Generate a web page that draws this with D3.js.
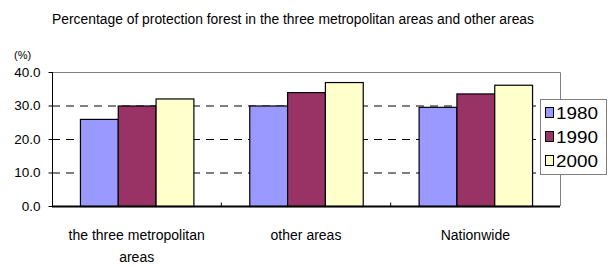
<!DOCTYPE html>
<html>
<head>
<meta charset="utf-8">
<script src="https://cdn.jsdelivr.net/npm/d3@7"></script>
<style>
  body { margin: 0; background: #fff; }
  svg { display: block; font-family: "Liberation Sans", Arial, sans-serif; }
</style>
</head>
<body>
<svg id="chart"></svg>
<script>
// data
const categories = ["the three metropolitan areas", "other areas", "Nationwide"];
const years = ["1980", "1990", "2000"];
const values1980 = [26.0, 30.0, 29.6];
const values1990 = [30.0, 34.0, 33.6];
const values2000 = [32.1, 37.0, 36.2];
const yTicks = [0, 10, 20, 30, 40];
const colors = ["#9999ff", "#993366", "#ffffcc"];

const series = [values1980, values1990, values2000];
const rows = categories.map((c, i) => ({
  cat: c,
  vals: years.map((y, j) => ({ year: y, value: series[j][i] }))
}));

// setting up svg
const w = 609, h = 267;
const plotL = 52, plotR = 560, plotT = 72, plotB = 206;
const svg = d3.select("#chart").attr("width", w).attr("height", h);

// scales
const x = d3.scaleBand().domain(categories).range([plotL, plotR]).paddingInner(0.33).paddingOuter(0.165);
const x1 = d3.scaleBand().domain(years).range([0, x.bandwidth()]);
const y = d3.scaleLinear().domain([0, 40]).range([plotB, plotT]);
const color = d3.scaleOrdinal().domain(years).range(colors);

// title
svg.append("text")
  .attr("x", 52).attr("y", 24)
  .attr("textLength", 482)
  .attr("lengthAdjust", "spacingAndGlyphs")
  .style("font-size", "14px")
  .attr("fill", "#000")
  .text("Percentage of protection forest in the three metropolitan areas and other areas");

// unit label
svg.append("text")
  .attr("x", 14).attr("y", 59)
  .style("font-size", "11px")
  .text("(%)");

// grid lines
svg.append("g")
  .selectAll("line")
  .data(yTicks.filter(d => d > 0 && d < 40))
  .join("line")
    .attr("x1", plotL).attr("x2", plotR)
    .attr("y1", d => y(d) + 0.5).attr("y2", d => y(d) + 0.5)
    .attr("stroke", "#000")
    .attr("stroke-dasharray", "8,6");

// top and right border
svg.append("path")
  .attr("d", `M${plotL},${y(40) + 0.5}H${plotR + 0.5}V${plotB}`)
  .attr("fill", "none")
  .attr("stroke", "#808080");

// bars
svg.append("g")
  .selectAll("g")
  .data(rows)
  .join("g")
    .attr("transform", d => `translate(${x(d.cat)},0)`)
  .selectAll("rect")
  .data(d => d.vals)
  .join("rect")
    .attr("x", d => x1(d.year) + 0.5)
    .attr("y", d => y(d.value) + 0.5)
    .attr("width", x1.bandwidth())
    .attr("height", d => y(0) - y(d.value))
    .attr("fill", d => color(d.year))
    .attr("stroke", "#000")
    .attr("stroke-width", 1.2);

// y axis
const yAxis = svg.append("g")
  .attr("transform", `translate(${plotL + 0.5},0)`)
  .call(d3.axisLeft(y).tickValues(yTicks).tickFormat(d3.format(".1f")).tickSize(4).tickPadding(8));
yAxis.select(".domain").attr("d", `M0,${y(40)}V${y(0)}`).attr("stroke", "#000");
yAxis.selectAll("text").style("font-size", "13.5px").attr("fill", "#000");
yAxis.attr("font-family", null);

// x axis
const xAxisG = svg.append("g").attr("transform", `translate(0,${plotB + 0.5})`);
xAxisG.append("line")
  .attr("x1", plotL).attr("x2", plotR)
  .attr("stroke", "#000").attr("stroke-width", 2);
const step = (plotR - plotL) / categories.length;
xAxisG.selectAll(".sep")
  .data(d3.range(1, categories.length))
  .join("line")
    .attr("class", "sep")
    .attr("x1", i => plotL + step * i).attr("x2", i => plotL + step * i)
    .attr("y1", 0).attr("y2", -4)
    .attr("stroke", "#000");

// category labels
const labelLines = [["the three metropolitan", "areas"], ["other areas"], ["Nationwide"]];
svg.append("g")
  .selectAll("text")
  .data(categories)
  .join("text")
    .attr("x", d => x(d) + x.bandwidth() / 2)
    .attr("y", 240)
    .attr("text-anchor", "middle")
    .style("font-size", "14px")
  .selectAll("tspan")
  .data((d, i) => labelLines[i])
  .join("tspan")
    .attr("x", function () { return this.parentNode.getAttribute("x"); })
    .attr("dy", (d, i) => i === 0 ? 0 : 22)
    .text(d => d);

// legend
const lg = svg.append("g").attr("transform", "translate(540,99)");
lg.append("rect")
  .attr("x", 0.5).attr("y", 0.5)
  .attr("width", 66).attr("height", 75)
  .attr("fill", "#fff")
  .attr("stroke", "#808080");
const items = lg.selectAll("g.item")
  .data(years)
  .join("g")
    .attr("class", "item")
    .attr("transform", (d, i) => `translate(0,${14 + i * 24})`);
items.append("rect")
  .attr("x", 5.5).attr("y", -5.5)
  .attr("width", 8).attr("height", 10)
  .attr("fill", d => color(d))
  .attr("stroke", "#000");
items.append("text")
  .attr("x", 16).attr("y", 6)
  .style("font-size", "16px")
  .attr("textLength", 42)
  .attr("lengthAdjust", "spacingAndGlyphs")
  .text(d => d);
</script>
</body>
</html>
